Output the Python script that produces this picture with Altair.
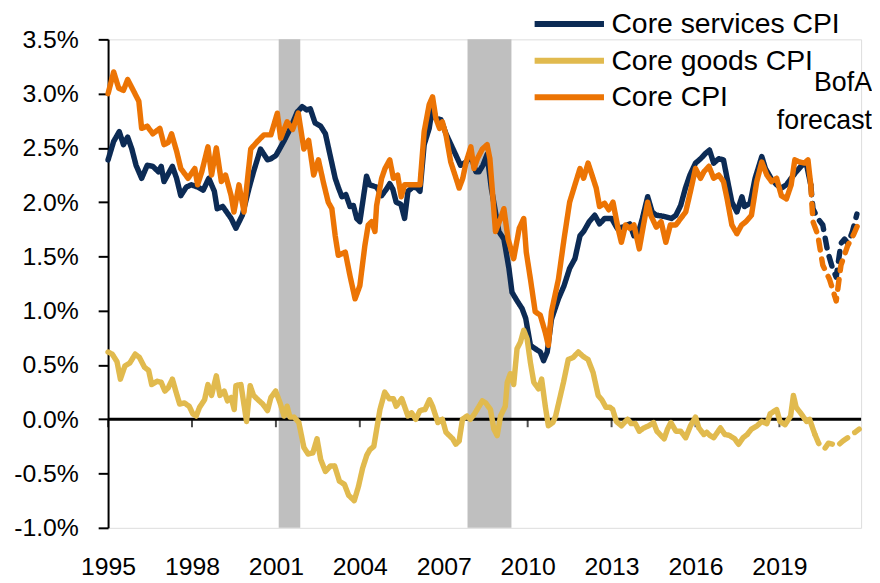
import altair as alt
import pandas as pd

# ---------------- data ----------------
series_names = ["Core services CPI", "Core goods CPI", "Core CPI"]
series_colors = ["#0C2B55", "#E1BA4E", "#EC7404"]

x_tick_years = [1995, 1998, 2001, 2004, 2007, 2010, 2013, 2016, 2019]
y_tick_values = [-1.0, -0.5, 0.0, 0.5, 1.0, 1.5, 2.0, 2.5, 3.0, 3.5]

recession_start = [2001.10, 2007.85]
recession_end = [2001.87, 2009.42]

# Core services CPI (actual)
services_t = [1995.0, 1995.2, 1995.4, 1995.55, 1995.7, 1995.85, 1996.0, 1996.2, 1996.4, 1996.6,
              1996.8, 1996.9, 1997.0, 1997.3, 1997.45, 1997.6, 1997.8, 1997.98, 1998.2, 1998.4,
              1998.6, 1998.8, 1998.9, 1999.1, 1999.4, 1999.57, 1999.8, 2000.04, 2000.2, 2000.45,
              2000.7, 2000.82, 2001.0, 2001.28, 2001.52, 2001.76, 2001.94, 2002.1, 2002.23, 2002.4,
              2002.6, 2002.77, 2002.94, 2003.12, 2003.24, 2003.36, 2003.5, 2003.65, 2003.77, 2003.89,
              2004.0, 2004.12, 2004.24, 2004.35, 2004.47, 2004.6, 2004.78, 2004.95, 2005.07, 2005.18,
              2005.3, 2005.47, 2005.6, 2005.72, 2005.9, 2006.05, 2006.15, 2006.3, 2006.48, 2006.6,
              2006.72, 2006.9, 2007.08, 2007.26, 2007.44, 2007.6, 2007.8, 2007.97, 2008.15, 2008.26,
              2008.4, 2008.55, 2008.7, 2008.97, 2009.15, 2009.33, 2009.44, 2009.6, 2009.8, 2009.93,
              2010.1, 2010.27, 2010.45, 2010.57, 2010.7, 2010.85, 2011.1, 2011.3, 2011.5, 2011.69,
              2011.87, 2012.0, 2012.2, 2012.4, 2012.57, 2012.75, 2013.0, 2013.2, 2013.4, 2013.65,
              2013.8, 2013.94, 2014.1, 2014.29, 2014.45, 2014.6, 2014.85, 2015.14, 2015.3, 2015.47,
              2015.64, 2015.8, 2016.0, 2016.18, 2016.36, 2016.5, 2016.65, 2016.83, 2017.0, 2017.13,
              2017.3, 2017.48, 2017.66, 2017.75, 2017.95, 2018.13, 2018.37, 2018.5, 2018.7, 2018.9,
              2019.07, 2019.25, 2019.42, 2019.6, 2019.77, 2019.95, 2020.12]
services_v = [2.39, 2.56, 2.65, 2.53, 2.60, 2.49, 2.34, 2.22, 2.34, 2.33,
              2.28, 2.33, 2.19, 2.33, 2.22, 2.06, 2.14, 2.16, 2.14, 2.11,
              2.22, 2.10, 1.94, 1.96, 1.85, 1.76, 1.88, 2.13, 2.28, 2.49,
              2.39, 2.40, 2.43, 2.56, 2.68, 2.83, 2.88, 2.85, 2.86, 2.73,
              2.70, 2.63, 2.43, 2.22, 2.13, 2.05, 2.07, 1.96, 1.97, 1.85,
              1.82, 2.03, 2.24, 2.16, 2.15, 2.14, 2.06, 2.12, 2.17, 2.12,
              2.00, 1.98, 1.85, 2.10, 2.14, 2.13, 2.10, 2.53, 2.68, 2.88,
              2.77, 2.76, 2.63, 2.53, 2.43, 2.34, 2.37, 2.43, 2.28, 2.28,
              2.34, 2.44, 2.13, 1.73, 1.66, 1.39, 1.17, 1.10, 1.02, 0.93,
              0.68, 0.65, 0.62, 0.54, 0.62, 0.92, 1.11, 1.23, 1.39, 1.48,
              1.69, 1.73, 1.82, 1.88, 1.80, 1.85, 1.85, 1.76, 1.77, 1.80,
              1.69, 1.70, 1.85, 2.05, 1.91, 1.88, 1.87, 1.85, 1.88, 1.97,
              2.13, 2.25, 2.36, 2.40, 2.45, 2.48, 2.36, 2.40, 2.39, 2.22,
              2.00, 1.91, 2.05, 1.96, 1.99, 2.22, 2.42, 2.31, 2.22, 2.16,
              2.13, 2.16, 2.22, 2.28, 2.33, 2.37, 2.16]
# Core services CPI (BofA forecast)
services_fc_t = [2020.12, 2020.2, 2020.37, 2020.55, 2020.73, 2020.9, 2021.03, 2021.2, 2021.33,
                 2021.45, 2021.6, 2021.77]
services_fc_v = [2.16, 1.94, 1.85, 1.79, 1.54, 1.39, 1.31, 1.62, 1.66,
                 1.62, 1.72, 1.89]

# Core goods CPI (actual)
goods_t = [1995.0, 1995.15, 1995.32, 1995.44, 1995.6, 1995.78, 1995.97, 1996.12, 1996.3, 1996.45,
           1996.56, 1996.75, 1996.9, 1997.03, 1997.15, 1997.3, 1997.42, 1997.56, 1997.73, 1997.9,
           1998.03, 1998.15, 1998.27, 1998.45, 1998.57, 1998.7, 1998.87, 1999.0, 1999.15, 1999.27,
           1999.4, 1999.51, 1999.57, 1999.75, 1999.85, 1999.95, 2000.08, 2000.2, 2000.36, 2000.53,
           2000.7, 2000.82, 2000.99, 2001.15, 2001.29, 2001.4, 2001.5, 2001.65, 2001.82, 2002.0,
           2002.15, 2002.32, 2002.47, 2002.6, 2002.77, 2002.95, 2003.1, 2003.27, 2003.45, 2003.6,
           2003.8, 2003.95, 2004.1, 2004.25, 2004.36, 2004.5, 2004.72, 2004.89, 2005.05, 2005.2,
           2005.3, 2005.5, 2005.72, 2005.85, 2006.0, 2006.15, 2006.33, 2006.49, 2006.6, 2006.79,
           2006.95, 2007.08, 2007.32, 2007.43, 2007.55, 2007.67, 2007.83, 2007.95, 2008.1, 2008.38,
           2008.5, 2008.67, 2008.79, 2008.91, 2009.03, 2009.2, 2009.27, 2009.38, 2009.5, 2009.62,
           2009.74, 2009.86, 2009.98, 2010.1, 2010.22, 2010.39, 2010.5, 2010.63, 2010.74, 2010.9,
           2011.0, 2011.28, 2011.45, 2011.63, 2011.81, 2011.98, 2012.16, 2012.34, 2012.52, 2012.65,
           2012.8, 2012.94, 2013.04, 2013.17, 2013.35, 2013.57, 2013.7, 2013.85, 2013.99, 2014.15,
           2014.33, 2014.5, 2014.62, 2014.88, 2015.0, 2015.12, 2015.3, 2015.47, 2015.65, 2015.82,
           2016.0, 2016.12, 2016.3, 2016.4, 2016.52, 2016.65, 2016.89, 2017.05, 2017.22, 2017.4,
           2017.54, 2017.7, 2017.85, 2018.0, 2018.2, 2018.37, 2018.55, 2018.67, 2018.9, 2019.02,
           2019.2, 2019.4, 2019.5, 2019.6, 2019.78, 2019.97, 2020.08, 2020.2, 2020.27]
goods_v = [0.62, 0.60, 0.53, 0.37, 0.49, 0.52, 0.60, 0.57, 0.48, 0.45,
           0.32, 0.35, 0.34, 0.26, 0.29, 0.37, 0.26, 0.14, 0.15, 0.12,
           0.05, 0.03, 0.11, 0.18, 0.32, 0.22, 0.40, 0.22, 0.26, 0.17,
           0.20, 0.09, 0.31, 0.32, 0.15, -0.02, 0.31, 0.22, 0.18, 0.14,
           0.08, 0.20, 0.26, 0.15, 0.03, 0.12, 0.02, 0.02, -0.03, -0.26,
           -0.32, -0.31, -0.18, -0.37, -0.48, -0.43, -0.43, -0.57, -0.60, -0.70,
           -0.75, -0.62, -0.45, -0.33, -0.28, -0.25, 0.09, 0.25, 0.19, 0.19,
           0.12, 0.19, 0.03, 0.06, 0.00, 0.08, 0.09, 0.18, 0.12, -0.03,
           0.00, -0.12, -0.18, -0.23, -0.20, 0.00, 0.03, 0.00, 0.05, 0.17,
           0.15, 0.09, -0.09, -0.15, 0.03, 0.12, 0.34, 0.42, 0.32, 0.65,
           0.71, 0.82, 0.74, 0.52, 0.34, 0.28, 0.37, 0.12, -0.06, -0.03,
           0.03, 0.34, 0.55, 0.57, 0.62, 0.58, 0.55, 0.43, 0.22, 0.18,
           0.11, 0.11, 0.09, -0.02, -0.06, 0.00, -0.04, -0.04, -0.11, -0.08,
           -0.06, -0.03, -0.11, -0.18, -0.09, -0.03, -0.11, -0.11, -0.17, -0.06,
           0.02, -0.08, -0.14, -0.12, -0.15, -0.17, -0.08, -0.14, -0.15, -0.18,
           -0.23, -0.17, -0.14, -0.09, -0.06, -0.02, -0.04, 0.05, 0.09, -0.02,
           -0.05, 0.03, 0.22, 0.11, 0.05, -0.02, 0.00, -0.09, -0.14]
# Core goods CPI (BofA forecast)
goods_fc_t = [2020.27, 2020.4, 2020.5, 2020.62, 2020.75, 2020.9, 2021.05, 2021.27, 2021.5, 2021.7, 2021.85]
goods_fc_v = [-0.14, -0.22, -0.26, -0.27, -0.22, -0.23, -0.25, -0.20, -0.16, -0.12, -0.09]

# Core CPI (actual)
core_t = [1995.0, 1995.2, 1995.38, 1995.55, 1995.7, 1995.9, 1996.1, 1996.2, 1996.4, 1996.6,
          1996.85, 1997.0, 1997.15, 1997.27, 1997.45, 1997.6, 1997.86, 1998.1, 1998.2, 1998.35,
          1998.57, 1998.7, 1998.87, 1999.05, 1999.2, 1999.4, 1999.5, 1999.68, 1999.86, 2000.1,
          2000.34, 2000.57, 2000.82, 2001.05, 2001.17, 2001.4, 2001.6, 2001.8, 2002.0, 2002.17,
          2002.35, 2002.52, 2002.7, 2002.87, 2003.0, 2003.12, 2003.23, 2003.48, 2003.65, 2003.83,
          2004.0, 2004.18, 2004.3, 2004.42, 2004.54, 2004.6, 2004.78, 2004.9, 2005.07, 2005.2,
          2005.35, 2005.48, 2005.6, 2005.77, 2006.0, 2006.15, 2006.3, 2006.48, 2006.6, 2006.72,
          2006.85, 2006.95, 2007.08, 2007.25, 2007.44, 2007.55, 2007.68, 2007.8, 2007.97, 2008.08,
          2008.2, 2008.38, 2008.55, 2008.65, 2008.85, 2009.03, 2009.15, 2009.3, 2009.5, 2009.7,
          2009.86, 2009.95, 2010.1, 2010.27, 2010.45, 2010.63, 2010.74, 2010.85, 2011.1, 2011.3,
          2011.5, 2011.69, 2011.87, 2012.0, 2012.16, 2012.3, 2012.45, 2012.57, 2012.75, 2012.9,
          2013.05, 2013.23, 2013.35, 2013.5, 2013.65, 2013.8, 2013.99, 2014.1, 2014.29, 2014.4,
          2014.6, 2014.77, 2014.94, 2015.1, 2015.3, 2015.47, 2015.65, 2015.82, 2016.0, 2016.18,
          2016.3, 2016.48, 2016.65, 2016.83, 2017.0, 2017.13, 2017.3, 2017.48, 2017.65, 2017.8,
          2018.0, 2018.19, 2018.37, 2018.55, 2018.72, 2018.9, 2019.07, 2019.25, 2019.42, 2019.55,
          2019.72, 2019.9, 2020.02, 2020.12]
core_v = [3.00, 3.20, 3.05, 3.03, 3.13, 3.03, 2.93, 2.68, 2.70, 2.63,
          2.68, 2.53, 2.55, 2.63, 2.47, 2.31, 2.22, 2.31, 2.16, 2.28,
          2.51, 2.25, 2.50, 2.19, 2.25, 2.06, 1.91, 2.16, 1.91, 2.49,
          2.56, 2.62, 2.62, 2.82, 2.59, 2.74, 2.67, 2.82, 2.49, 2.57,
          2.25, 2.39, 2.18, 2.00, 1.94, 1.69, 1.51, 1.54, 1.32, 1.11,
          1.23, 1.60, 1.79, 1.82, 1.73, 1.97, 2.22, 2.31, 2.39, 2.22,
          2.25, 2.05, 2.16, 2.16, 2.16, 2.16, 2.65, 2.90, 2.97, 2.77,
          2.68, 2.74, 2.62, 2.37, 2.22, 2.13, 2.22, 2.37, 2.51, 2.31,
          2.40, 2.49, 2.53, 2.40, 1.73, 1.85, 1.94, 1.66, 1.48, 1.76,
          1.85, 1.54, 1.29, 0.99, 0.96, 0.80, 0.68, 0.99, 1.29, 1.66,
          2.00, 2.16, 2.31, 2.22, 2.36, 2.25, 2.13, 1.96, 1.99, 1.93,
          2.00, 1.76, 1.63, 1.79, 1.76, 1.79, 1.57, 1.73, 2.00, 1.88,
          1.77, 1.82, 1.63, 1.79, 1.79, 1.85, 1.91, 2.10, 2.31, 2.22,
          2.28, 2.33, 2.22, 2.25, 2.19, 2.03, 1.79, 1.71, 1.79, 1.82,
          1.88, 2.19, 2.37, 2.25, 2.19, 2.22, 2.06, 2.03, 2.16, 2.39,
          2.37, 2.36, 2.39, 2.16]
# Core CPI (BofA forecast)
core_fc_t = [2020.12, 2020.2, 2020.37, 2020.55, 2020.79, 2020.9, 2021.03, 2021.2, 2021.44, 2021.65, 2021.85]
core_fc_v = [2.16, 1.82, 1.70, 1.42, 1.29, 1.20, 1.09, 1.42, 1.60, 1.70, 1.82]

# ---------------- tables ----------------
def series_frame(name, t, v, t_fc, v_fc):
    a = pd.DataFrame({"date": t, "value": v, "series": name, "part": "actual"})
    f = pd.DataFrame({"date": t_fc, "value": v_fc, "series": name, "part": "forecast"})
    return pd.concat([a, f], ignore_index=True)

frames = {
    series_names[0]: series_frame(series_names[0], services_t, services_v, services_fc_t, services_fc_v),
    series_names[1]: series_frame(series_names[1], goods_t, goods_v, goods_fc_t, goods_fc_v),
    series_names[2]: series_frame(series_names[2], core_t, core_v, core_fc_t, core_fc_v),
}
rec_df = pd.DataFrame({"start": recession_start, "end": recession_end})
tick_df = pd.DataFrame({"year": x_tick_years})

FONT = "Liberation Sans"
W, H = 760, 493

x_scale = alt.Scale(domain=[1995, 2021.92], nice=False, zero=False)
y_scale = alt.Scale(domain=[-1.0, 3.5], nice=False, zero=False)

x_axis = alt.Axis(values=x_tick_years, format="d", domain=False, ticks=False, grid=False,
                  labelPadding=27, labelFontSize=25, labelFont=FONT, labelColor="black",
                  title=None, labelFlush=False)
y_axis = alt.Axis(values=y_tick_values,
                  labelExpr="replace(format(datum.value, '.1f'), '\u2212', '-') + '%'",
                  domain=True, domainColor="black", domainWidth=2, ticks=True, tickColor="black",
                  tickWidth=2, tickSize=10, labelPadding=20, grid=False, labelFontSize=25,
                  labelFont=FONT, labelColor="black", title=None)

# a wide horizontal stroke as the legend symbol (custom path, scaled by sqrt(size)/2)
legend = alt.Legend(orient="none", legendX=445, legendY=-36, title=None,
                    symbolType="M-2,0H2", symbolStrokeWidth=6, symbolSize=1225,
                    labelFontSize=28.6, labelFont=FONT, labelColor="black", labelLimit=500,
                    labelOffset=22, rowPadding=1)

color_enc = alt.Color("series:N", scale=alt.Scale(domain=series_names, range=series_colors),
                      legend=legend)

rects = alt.Chart(rec_df).mark_rect(color="#BFBFBF").encode(
    x=alt.X("start:Q", scale=x_scale, axis=x_axis),
    x2="end:Q",
    y=alt.value(0),
    y2=alt.value(H),
)

zero_rule = alt.Chart(pd.DataFrame({"v": [0.0]})).mark_rule(color="black", strokeWidth=3).encode(
    y=alt.Y("v:Q", scale=y_scale, axis=y_axis)
)

zero_ticks = alt.Chart(tick_df).mark_tick(color="black", thickness=2, size=8, yOffset=4,
                                          orient="vertical").encode(
    x=alt.X("year:Q", scale=x_scale),
    y=alt.datum(0.0),
)

def line_layer(name):
    return alt.Chart(frames[name]).mark_line(strokeWidth=5.5, strokeCap="round",
                                             strokeJoin="round").encode(
        x=alt.X("date:Q", scale=x_scale),
        y=alt.Y("value:Q", scale=y_scale),
        color=color_enc,
        strokeDash=alt.StrokeDash("part:N",
                                  scale=alt.Scale(domain=["actual", "forecast"],
                                                  range=[[1, 0], [10, 9]]),
                                  legend=None),
        detail="part:N",
    )

note = alt.Chart(pd.DataFrame({"t": ["BofA forecast"]})).mark_text(
    align="right", baseline="alphabetic", font=FONT, fontSize=27, color="black",
    lineBreak=" ", lineHeight=38,
).encode(text="t:N", x=alt.value(771), y=alt.value(52))

chart = alt.layer(
    rects, zero_rule, zero_ticks,
    line_layer(series_names[0]), line_layer(series_names[1]), line_layer(series_names[2]),
    note,
).properties(
    width=W, height=H,
    padding={"left": 101, "top": 29, "right": 11, "bottom": 50},
    autosize=alt.AutoSizeParams(type="none"),
).configure_view(stroke=None).configure(background="white")

chart.save("out.html", embed_options={"renderer": "svg", "actions": False})
